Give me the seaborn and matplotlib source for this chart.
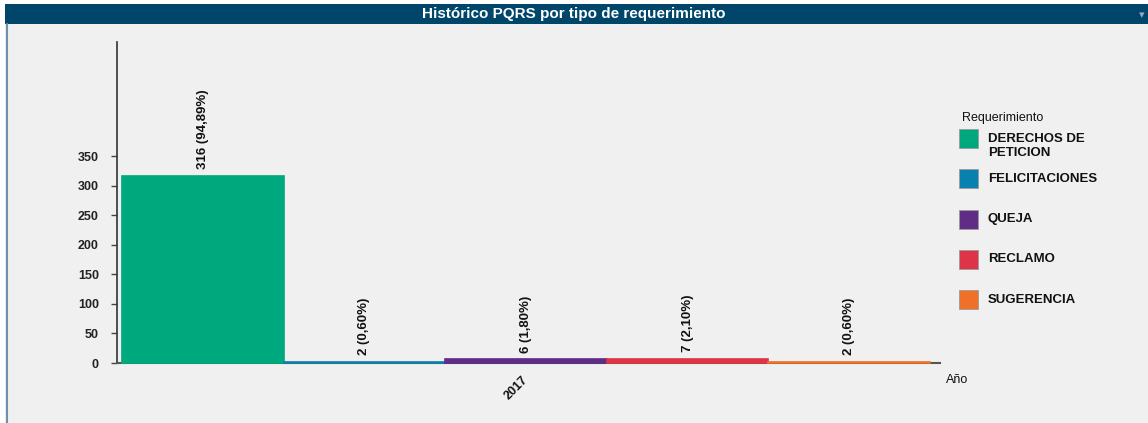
import pandas as pd
import matplotlib.pyplot as plt
import seaborn as sns
from matplotlib.patches import Rectangle

# Data
anio = ["2017"] * 5
requerimientos = ["DERECHOS DE PETICION", "FELICITACIONES", "QUEJA", "RECLAMO", "SUGERENCIA"]
cantidades = [316, 2, 6, 7, 2]
leyenda = ["DERECHOS DE\nPETICION", "FELICITACIONES", "QUEJA", "RECLAMO", "SUGERENCIA"]
colores = ["#00A87D", "#0A80AE", "#5F2C86", "#DD3447", "#F07027"]
y_ticks = [0, 50, 100, 150, 200, 250, 300, 350]

sns.set_theme(style="white")
plt.rcParams['font.family'] = ['Liberation Sans', 'DejaVu Sans']

df = pd.DataFrame({"Año": anio, "Requerimiento": requerimientos, "Cantidad": cantidades})
total = sum(cantidades)

W, H = 1148, 423
fig = plt.figure(figsize=(W / 100, H / 100), dpi=100, facecolor="#F0F0F0")
ax = fig.add_axes([117 / W, 1 - 363 / H, 823 / W, 321 / H])
ax.set_facecolor("#F0F0F0")

sns.barplot(data=df, x="Año", y="Cantidad", hue="Requerimiento",
            hue_order=requerimientos, palette=colores, width=0.98,
            saturation=1, legend=False, ax=ax, zorder=3)

for p in ax.patches:
    h = p.get_height()
    p.set_clip_on(False)
    # thin outline in the bar colour so tiny bars stay visible over the axis
    p.set_edgecolor(p.get_facecolor())
    p.set_linewidth(1.2)
    ax.annotate(f"{h:.0f} ({100 * h / total:.2f}%)".replace(".", ","),
                (p.get_x() + p.get_width() / 2, h), xytext=(0, 5),
                textcoords="offset points", rotation=90, ha="center", va="bottom",
                fontsize=9.5, weight="bold", color="#111111")

ax.set_ylim(0, 543)
ax.set_xlim(-0.496, 0.502)
ax.set_yticks(y_ticks)
ax.set_yticklabels([str(t) for t in y_ticks], fontsize=9, weight="bold", color="#222222")
ax.tick_params(axis="y", left=True, length=4, width=1, color="#444444", pad=9)
ax.tick_params(axis="x", bottom=False, pad=2)
ax.set_xticks([0.005])
ax.set_xticklabels(["2017"], rotation=45, ha="right", fontsize=9, weight="bold",
                   color="#111111")
ax.set_xlabel("")
ax.set_ylabel("")
for s in ["top", "right"]:
    ax.spines[s].set_visible(False)
ax.spines["left"].set_color("#333333")
ax.spines["bottom"].set_color("#555555")
ax.spines["left"].set_linewidth(1.2)
ax.spines["bottom"].set_linewidth(1.5)
ax.text(1.007, -0.035, "Año", transform=ax.transAxes, fontsize=9, color="#111111",
        ha="left", va="top")

# legend laid out by hand to match the spacing of the original widget
fig.text(962 / W, 1 - 118 / H, "Requerimiento", ha="left", va="center",
         fontsize=9, color="#111111")
for i, (lab, col) in enumerate(zip(leyenda, colores)):
    yc = 138.5 + 40.3 * i
    fig.patches.append(Rectangle((959 / W, 1 - (yc + 9.5) / H), 19 / W, 19 / H,
                                 transform=fig.transFigure, facecolor=col,
                                 edgecolor="#9A9A9A", linewidth=0.6))
    ty = yc + (7.5 if "\n" in lab else 0)
    fig.text(988 / W, 1 - ty / H, lab, ha="left", va="center", fontsize=9.5,
             weight="bold", color="#111111", linespacing=1.2)

# header bar and frame
fig.patches.append(Rectangle((5 / W, 1 - 24 / H), 1, 20 / H,
                             transform=fig.transFigure, facecolor="#00466B",
                             edgecolor="none", zorder=0))
fig.patches.append(Rectangle((0, 1 - 4 / H), 1, 4 / H, transform=fig.transFigure,
                             facecolor="white", edgecolor="none", zorder=0))
fig.patches.append(Rectangle((0, 0), 5 / W, 1 - 4 / H, transform=fig.transFigure,
                             facecolor="white", edgecolor="none", zorder=0))
fig.lines.append(plt.Line2D([6.5 / W, 6.5 / W], [0, 1 - 24 / H],
                            transform=fig.transFigure, color="#6C90AE", linewidth=1.5))
fig.text(0.5, 1 - 14 / H, "Histórico PQRS por tipo de requerimiento", ha="center",
         va="center", color="white", fontsize=11, weight="bold")
fig.text(1 - 6 / W, 1 - 15 / H, "▾", ha="center", va="center", color="#8FA8BE",
         fontsize=8, family="DejaVu Sans")

fig.savefig("out.png", dpi=100, facecolor=fig.get_facecolor())
plt.close(fig)
